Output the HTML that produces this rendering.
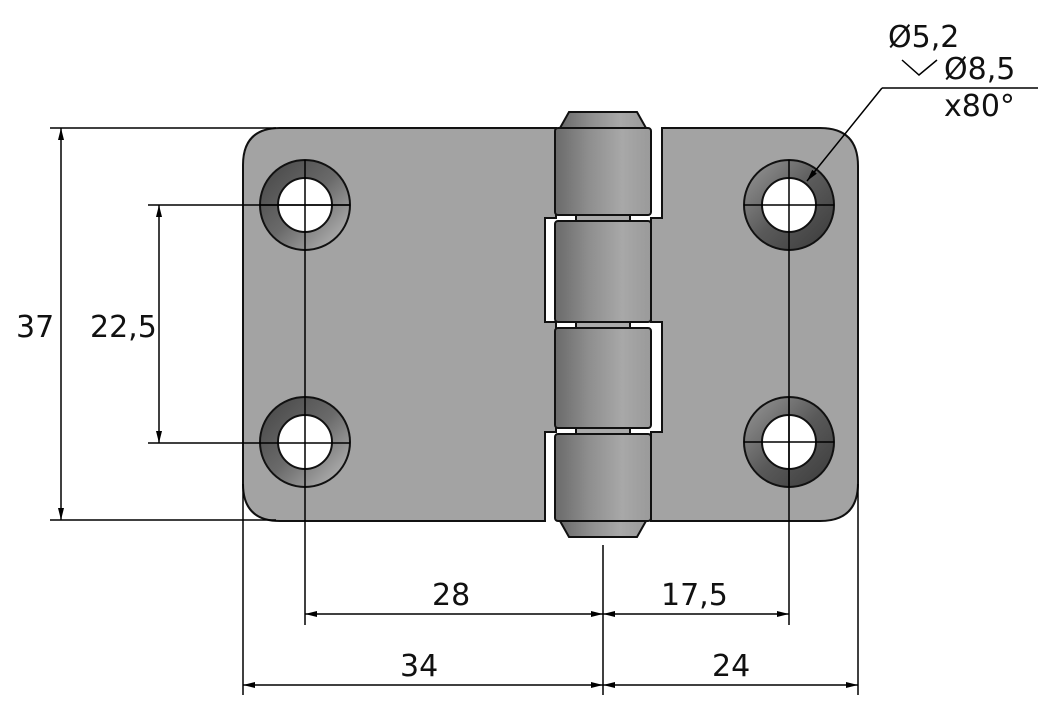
<!DOCTYPE html>
<html><head><meta charset="utf-8"><style>
html,body{margin:0;padding:0;background:#fff}
svg{display:block}
text{font-family:"DejaVu Sans","Liberation Sans",sans-serif;font-size:30px;fill:#111}
</style></head><body>
<svg width="1063" height="709" viewBox="0 0 1063 709" xmlns="http://www.w3.org/2000/svg">
<defs>
<linearGradient id="kn" x1="0" x2="1" y1="0" y2="0">
<stop offset="0" stop-color="#6a6a6a"/><stop offset="0.35" stop-color="#8e8e8e"/><stop offset="0.7" stop-color="#a8a8a8"/><stop offset="1" stop-color="#9a9a9a"/>
</linearGradient>
<linearGradient id="cs" x1="0" y1="0" x2="1" y2="1">
<stop offset="0" stop-color="#9a9a9a"/><stop offset="0.5" stop-color="#5a5a5a"/><stop offset="1" stop-color="#3a3a3a"/>
</linearGradient>
<linearGradient id="cs2" x1="1" y1="1" x2="0" y2="0">
<stop offset="0" stop-color="#c0c0c0"/><stop offset="0.5" stop-color="#6a6a6a"/><stop offset="1" stop-color="#444"/>
</linearGradient>
<marker id="ar" viewBox="0 0 12 6" refX="12" refY="3" markerWidth="12" markerHeight="6" orient="auto-start-reverse" markerUnits="userSpaceOnUse"><path d="M0,0 L12,3 L0,6 z" fill="#000"/></marker>
</defs>

<!-- left plate -->
<g fill="#a3a3a3" stroke="#111" stroke-width="2">
<path d="M280,128 L556,128 L556,218 L545,218 L545,322 L556,322 L556,432 L545,432 L545,521 L280,521 Q243,521 243,484 L243,165 Q243,128 280,128 Z"/>
<path d="M651,218 L662,218 L662,128 L820,128 Q858,128 858,166 L858,483 Q858,521 820,521 L651,521 L651,432 L662,432 L662,322 L651,322 Z"/>
</g>

<!-- holes -->
<g stroke="#111" stroke-width="2">
<circle cx="305" cy="205" r="45" fill="url(#cs2)"/><circle cx="305" cy="205" r="27" fill="#fff"/>
<circle cx="305" cy="442" r="45" fill="url(#cs2)"/><circle cx="305" cy="442" r="27" fill="#fff"/>
<circle cx="789" cy="205" r="45" fill="url(#cs)"/><circle cx="789" cy="205" r="27" fill="#fff"/>
<circle cx="789" cy="442" r="45" fill="url(#cs)"/><circle cx="789" cy="442" r="27" fill="#fff"/>
</g>

<!-- knuckles -->
<g stroke="#111" stroke-width="2">
<path d="M569,112 L637,112 L646,128 L560,128 Z" fill="url(#kn)"/>
<path d="M560,521 L646,521 L637,537 L569,537 Z" fill="url(#kn)"/>
<rect x="576" y="214" width="54" height="8" fill="#aaa"/>
<rect x="576" y="320" width="54" height="9" fill="#aaa"/>
<rect x="576" y="427" width="54" height="8" fill="#aaa"/>
<rect x="555" y="128" width="96" height="87" rx="3" fill="url(#kn)"/>
<rect x="555" y="221" width="96" height="101" rx="3" fill="url(#kn)"/>
<rect x="555" y="328" width="96" height="100" rx="3" fill="url(#kn)"/>
<rect x="555" y="434" width="96" height="87" rx="3" fill="url(#kn)"/>
</g>

<!-- center lines & dimensions -->
<g stroke="#000" stroke-width="1.5" fill="none">
<line x1="50" y1="128" x2="276" y2="128"/>
<line x1="50" y1="520" x2="276" y2="520"/>
<line x1="61" y1="128" x2="61" y2="520" marker-start="url(#ar)" marker-end="url(#ar)"/>
<line x1="148" y1="205" x2="350" y2="205"/>
<line x1="148" y1="443" x2="350" y2="443"/>
<line x1="159" y1="205" x2="159" y2="443" marker-start="url(#ar)" marker-end="url(#ar)"/>
<line x1="305" y1="160" x2="305" y2="625"/>
<line x1="260" y1="205" x2="350" y2="205"/>
<line x1="789" y1="160" x2="789" y2="625"/>
<line x1="789" y1="397" x2="789" y2="487"/>
<line x1="744" y1="205" x2="834" y2="205"/>
<line x1="744" y1="442" x2="834" y2="442"/>
<line x1="243" y1="484" x2="243" y2="695"/>
<line x1="858" y1="484" x2="858" y2="695"/>
<line x1="603" y1="545" x2="603" y2="695"/>
<line x1="305" y1="614" x2="603" y2="614" marker-start="url(#ar)" marker-end="url(#ar)"/>
<line x1="603" y1="614" x2="789" y2="614" marker-start="url(#ar)" marker-end="url(#ar)"/>
<line x1="243" y1="685" x2="603" y2="685" marker-start="url(#ar)" marker-end="url(#ar)"/>
<line x1="603" y1="685" x2="858" y2="685" marker-start="url(#ar)" marker-end="url(#ar)"/>
<line x1="882" y1="88" x2="1038" y2="88"/>
<line x1="882" y1="88" x2="807" y2="181" marker-end="url(#ar)"/>
<polyline points="902,60 919,75 937,60"/>
</g>

<text x="16" y="337">37</text>
<text x="90" y="337">22,5</text>
<text x="432" y="605">28</text>
<text x="661" y="605">17,5</text>
<text x="400" y="676">34</text>
<text x="712" y="676">24</text>
<text x="888" y="47">Ø5,2</text>
<text x="944" y="79">Ø8,5</text>
<text x="944" y="116">x80°</text>
</svg>
</body></html>
